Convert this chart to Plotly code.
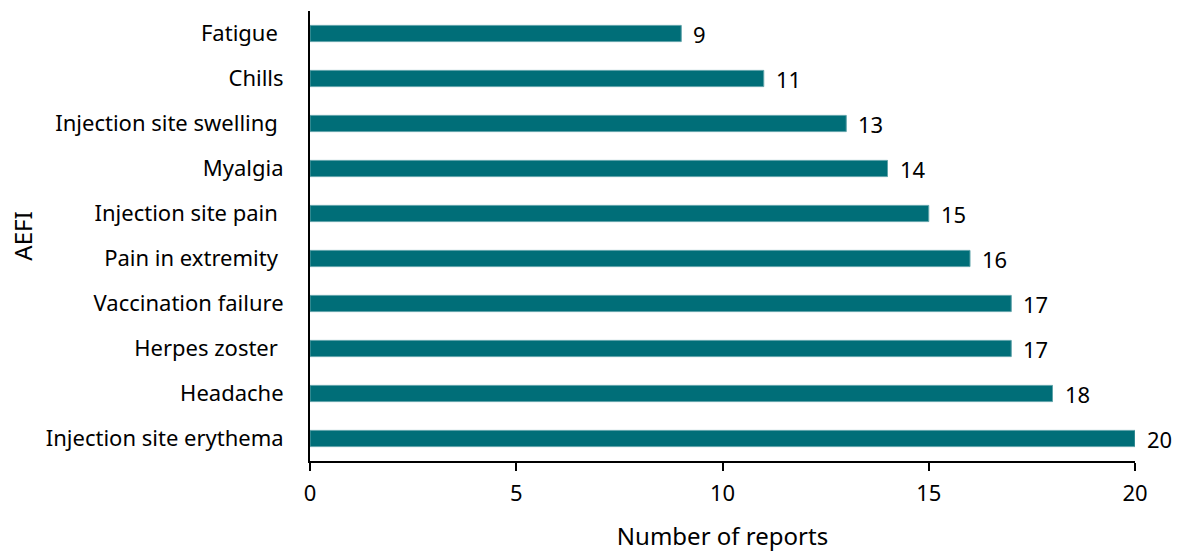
import plotly.graph_objects as go

categories = ["Injection site erythema", "Headache", "Herpes zoster ", "Vaccination failure",
              "Pain in extremity ", "Injection site pain ", "Myalgia", "Injection site swelling ",
              "Chills", "Fatigue "]
values = [20, 18, 17, 17, 16, 15, 14, 13, 11, 9]
x_ticks = [0, 5, 10, 15, 20]

FONT = "Noto Sans, Open Sans, sans-serif"

fig = go.Figure()
fig.add_trace(go.Bar(
    y=categories, x=values, orientation="h",
    marker=dict(color="#006E78", line=dict(color="#5FA3A9", width=1)),
    width=0.36, hoverinfo="skip",
))
for c, v in zip(categories, values):
    fig.add_annotation(x=v, y=c, text=str(v), showarrow=False, xanchor="left",
                       xshift=10, font=dict(size=22, color="#000000", family=FONT))

fig.update_layout(
    width=1181, height=553,
    margin=dict(l=310, r=46, t=11, b=92),
    plot_bgcolor="white", paper_bgcolor="white",
    showlegend=False,
    font=dict(family=FONT, size=22, color="#000000"),
    xaxis=dict(range=[0, 20], tickvals=x_ticks, showgrid=False, zeroline=False,
               automargin=False,
               showline=True, linecolor="#000000", linewidth=2,
               ticks="outside", ticklen=8, tickwidth=2, tickcolor="#000000",
               tickfont=dict(size=22), ticklabelstandoff=4,
               title=dict(text="Number of reports", font=dict(size=24), standoff=22)),
    yaxis=dict(range=[-0.5, 9.5], showgrid=False, zeroline=False,
               automargin=False,
               showline=True, linecolor="#000000", linewidth=2,
               ticks="", tickfont=dict(size=22), ticklabelstandoff=20,
               title=dict(text="AEFI", font=dict(size=24), standoff=6)),
)

fig.write_html("out.html")
